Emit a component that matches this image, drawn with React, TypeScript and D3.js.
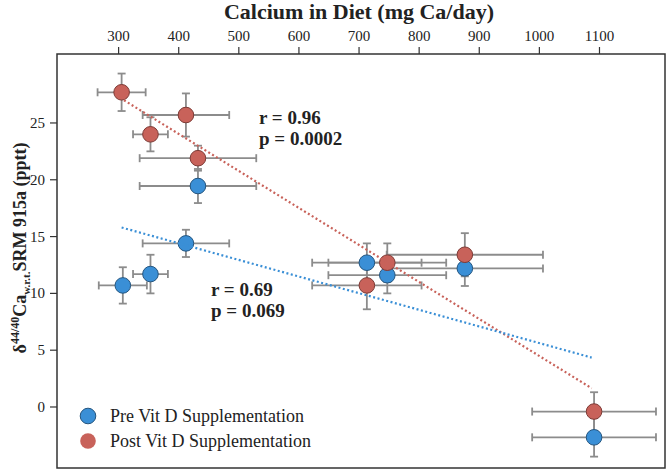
import React from "react";
import * as d3 from "d3";

const preX = [307, 353, 412, 432, 713, 747, 876, 1091];
const preY = [10.7, 11.7, 14.4, 19.45, 12.7, 11.6, 12.2, -2.67];
const preXErr = [40, 29, 72, 97, 91, 98, 130, 103];
const preYErr = [1.6, 1.7, 1.2, 1.5, 1.7, 1.6, 1.55, 1.7];

const postX = [305, 353, 412, 432, 713, 747, 876, 1091];
const postY = [27.7, 24.0, 25.7, 21.9, 10.7, 12.7, 13.4, -0.4];
const postXErr = [40, 29, 72, 97, 91, 98, 130, 103];
const postYErr = [1.65, 1.5, 1.9, 1.1, 2.1, 1.7, 1.9, 1.7];

const preFit = [[305, 15.8], [1087, 4.35]];
const postFit = [[309, 27.0], [1087, 1.65]];

const xTicks = [300, 400, 500, 600, 700, 800, 900, 1000, 1100];
const yTicks = [0, 5, 10, 15, 20, 25];

const preStats = ["r = 0.69", "p = 0.069"];
const postStats = ["r = 0.96", "p = 0.0002"];
const legendLabels = ["Pre Vit D Supplementation", "Post Vit D Supplementation"];

const W = 666, H = 470;
const left = 57, right = 665, top = 54, bottom = 468;

export default function App() {
  const x = d3.scaleLinear().domain([197.5, 1209]).range([left, right]);
  const y = d3.scaleLinear().domain([-5.37, 31.07]).range([bottom, top]);
  const font = "'Liberation Serif', 'Times New Roman', serif";
  const barColor = "#8c8c8c";
  const blue = "#3a8fd6", blueStroke = "#24557f";
  const red = "#c8625a", redStroke = "#7d3a35";
  const line = d3.line<number[]>().x(d => x(d[0])).y(d => y(d[1]));

  const series = [
    { xs: preX, ys: preY, xe: preXErr, ye: preYErr, fill: blue, stroke: blueStroke },
    { xs: postX, ys: postY, xe: postXErr, ye: postYErr, fill: red, stroke: redStroke },
  ];
  const cap = 4;

  return (
    <svg width={W} height={H} style={{ position: "absolute", left: 0, top: 0, background: "#fff" }} fontFamily={font}>
      <rect x={0} y={0} width={W} height={H} fill="#fff" />
      {/* title */}
      <text x={359} y={19} textAnchor="middle" fontSize={22} fontWeight="bold" fill="#222">Calcium in Diet (mg Ca/day)</text>
      {/* x ticks top */}
      {xTicks.map(t => (
        <g key={"xt" + t}>
          <line x1={x(t)} x2={x(t)} y1={top} y2={top - 7} stroke="#333" strokeWidth={1.2} />
          <text x={x(t)} y={41} textAnchor="middle" fontSize={15} fill="#222">{t}</text>
        </g>
      ))}
      {yTicks.map(t => (
        <g key={"yt" + t}>
          <line x1={left} x2={left - 7} y1={y(t)} y2={y(t)} stroke="#333" strokeWidth={1.2} />
          <text x={45} y={y(t) + 5} textAnchor="end" fontSize={15} fill="#222">{t}</text>
        </g>
      ))}
      {/* y title */}
      <text transform={`translate(26,248) rotate(-90)`} textAnchor="middle" fontSize={18} fontWeight="bold" fill="#222">
        δ<tspan fontSize={12} dy={-7}>44/40</tspan><tspan dy={7}>Ca</tspan><tspan fontSize={11} dy={4}>w.r.t.</tspan><tspan dy={-4}>SRM 915a (pptt)</tspan>
      </text>
      {/* frame */}
      <rect x={left} y={top} width={right - left} height={bottom - top} fill="none" stroke="#333" strokeWidth={1.5} />
      {/* error bars */}
      {series.map((s, si) => s.xs.map((xv, i) => {
        const cx = x(xv), cy = y(s.ys[i]);
        const x0 = x(xv - s.xe[i]), x1 = x(xv + s.xe[i]);
        const y0 = y(s.ys[i] - s.ye[i]), y1 = y(s.ys[i] + s.ye[i]);
        return (
          <g key={`eb${si}-${i}`} stroke={barColor} strokeWidth={1.8}>
            <line x1={x0} x2={x1} y1={cy} y2={cy} />
            <line x1={x0} x2={x0} y1={cy - cap} y2={cy + cap} />
            <line x1={x1} x2={x1} y1={cy - cap} y2={cy + cap} />
            <line x1={cx} x2={cx} y1={y0} y2={y1} />
            <line x1={cx - cap} x2={cx + cap} y1={y0} y2={y0} />
            <line x1={cx - cap} x2={cx + cap} y1={y1} y2={y1} />
          </g>
        );
      }))}
      {/* points */}
      {series.map((s, si) => s.xs.map((xv, i) => (
        <circle key={`pt${si}-${i}`} cx={x(xv)} cy={y(s.ys[i])} r={7.8} fill={s.fill} stroke={s.stroke} strokeWidth={1} />
      )))}
      {/* fit lines */}
      <path d={line(postFit) || ""} stroke={red} strokeWidth={2.2} strokeDasharray="2 2.5" fill="none" />
      <path d={line(preFit) || ""} stroke={blue} strokeWidth={2.2} strokeDasharray="2 2.5" fill="none" />
      {/* stats */}
      <text x={259} y={124} fontSize={19} fontWeight="bold" fill="#222">{postStats[0]}</text>
      <text x={259} y={145} fontSize={19} fontWeight="bold" fill="#222">{postStats[1]}</text>
      <text x={211} y={296} fontSize={19} fontWeight="bold" fill="#222">{preStats[0]}</text>
      <text x={211} y={317} fontSize={19} fontWeight="bold" fill="#222">{preStats[1]}</text>
      {/* legend */}
      <circle cx={88} cy={416} r={7.8} fill={blue} stroke={blueStroke} strokeWidth={1} />
      <text x={110} y={422} fontSize={18} fill="#222">{legendLabels[0]}</text>
      <circle cx={88} cy={441} r={7.8} fill={red} stroke="none" />
      <text x={110} y={447} fontSize={18} fill="#222">{legendLabels[1]}</text>
    </svg>
  );
}
